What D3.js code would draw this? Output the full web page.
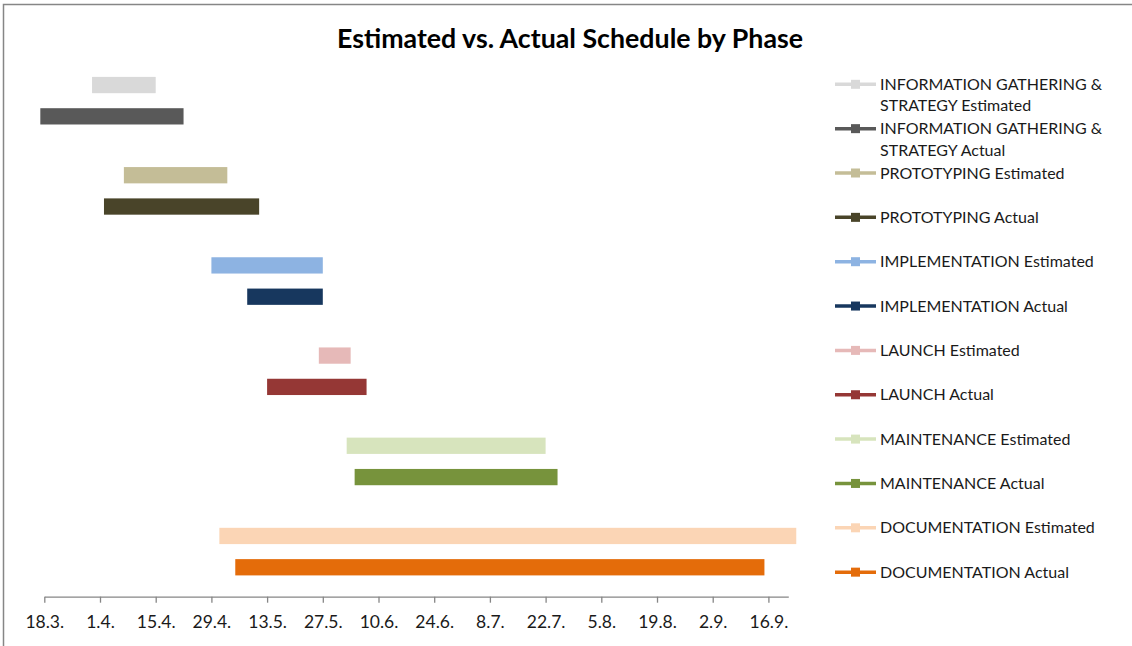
<!DOCTYPE html>
<html><head><meta charset="utf-8">
<script src="https://cdn.jsdelivr.net/npm/d3@7"></script>
<style>
html,body{margin:0;padding:0;background:#fff;}
svg{display:block;font-family:Lato,"Open Sans",sans-serif;}
</style></head>
<body><svg id="c" width="1132" height="646"></svg>
<script>
// ---- data ----
const phases = ["INFORMATION GATHERING & STRATEGY","PROTOTYPING","IMPLEMENTATION","LAUNCH","MAINTENANCE","DOCUMENTATION"];
const estStart = ["2013-03-30","2013-04-07","2013-04-29","2013-05-26","2013-06-02","2013-05-01"];
const estEnd   = ["2013-04-15","2013-05-03","2013-05-27","2013-06-03","2013-07-22","2013-09-23"];
const actStart = ["2013-03-17","2013-04-02","2013-05-08","2013-05-13","2013-06-04","2013-05-05"];
const actEnd   = ["2013-04-22","2013-05-11","2013-05-27","2013-06-07","2013-07-25","2013-09-15"];
const estColors = ["#d9d9d9","#c4bd97","#8db3e2","#e6b9b8","#d7e4bd","#fbd5b5"];
const actColors = ["#595959","#494429","#17375e","#953735","#77933c","#e46c0a"];
const tickDates = ["2013-03-18","2013-04-01","2013-04-15","2013-04-29","2013-05-13","2013-05-27","2013-06-10","2013-06-24","2013-07-08","2013-07-22","2013-08-05","2013-08-19","2013-09-02","2013-09-16"];
const axisMin = "2013-03-18", axisMax = "2013-09-21";
const title = "Estimated vs. Actual Schedule by Phase";

const parse = d3.utcParse("%Y-%m-%d");
const svg = d3.select("#c");

// border
svg.append("rect").attr("x",3.5).attr("y",4.5).attr("width",1140).attr("height",660)
  .attr("fill","none").attr("stroke","#868686").attr("stroke-width",1.5);

// title
svg.append("text").attr("x",570).attr("y",48).attr("text-anchor","middle")
  .attr("font-size",26).attr("font-weight","bold").attr("fill","#000")
  .attr("textLength",466).attr("lengthAdjust","spacingAndGlyphs").text(title);

const x = d3.scaleUtc().domain([parse(axisMin), parse(axisMax)]).range([44.3, 788.3]);
const plotTop = 55.6, plotBottom = 596.7;
const y0 = d3.scaleBand().domain(phases).range([plotTop, plotBottom]);
const yIn = d3.scaleBand().domain(["Estimated","Actual"]).range([0, y0.bandwidth()]).paddingInner(0.48).paddingOuter(0.68);

const rows = [];
phases.forEach((p,i)=>{
  rows.push({phase:p, kind:"Estimated", s:parse(estStart[i]), e:parse(estEnd[i]), c:estColors[i]});
  rows.push({phase:p, kind:"Actual", s:parse(actStart[i]), e:parse(actEnd[i]), c:actColors[i]});
});

svg.append("g").selectAll("rect").data(rows).join("rect")
  .attr("x", d=>x(d.s)).attr("width", d=>x(d.e)-x(d.s))
  .attr("y", d=>y0(d.phase)+yIn(d.kind)).attr("height", yIn.bandwidth())
  .attr("fill", d=>d.c);

// x axis
const ax = svg.append("g").attr("transform",`translate(0,${plotBottom})`)
  .call(d3.axisBottom(x).tickValues(tickDates.map(parse)).tickFormat(d3.utcFormat("%-d.%-m.")).tickSize(6).tickSizeOuter(0));
ax.select(".domain").attr("stroke","#868686").attr("stroke-width",1.3);
ax.selectAll(".tick line").attr("stroke","#868686").attr("stroke-width",1.3);
ax.selectAll(".tick text").attr("font-size",17.5).attr("fill","#1a1a1a").attr("dy","1.25em").attr("font-family","Lato,sans-serif");

// legend
const leg = svg.append("g");
const legY0 = 84.3, legStep = 44.35;
rows.forEach((d,i)=>{
  const yy = legY0 + i*legStep;
  const g = leg.append("g").attr("transform",`translate(0,${yy})`);
  g.append("line").attr("x1",835).attr("x2",876).attr("y1",0).attr("y2",0).attr("stroke",d.c).attr("stroke-width",3.5);
  g.append("rect").attr("x",851).attr("y",-4.5).attr("width",9).attr("height",9).attr("fill",d.c);
  const label = d.phase + " " + d.kind;
  const t = g.append("text").attr("x",880).attr("y",5.5).attr("font-size",16).attr("fill","#1a1a1a");
  if (d.phase.length > 20) {
    t.append("tspan").attr("x",880).attr("dy",0).text("INFORMATION GATHERING &");
    t.append("tspan").attr("x",880).attr("dy",21.5).text("STRATEGY " + d.kind);
  } else t.text(label);
});
</script></body></html>
